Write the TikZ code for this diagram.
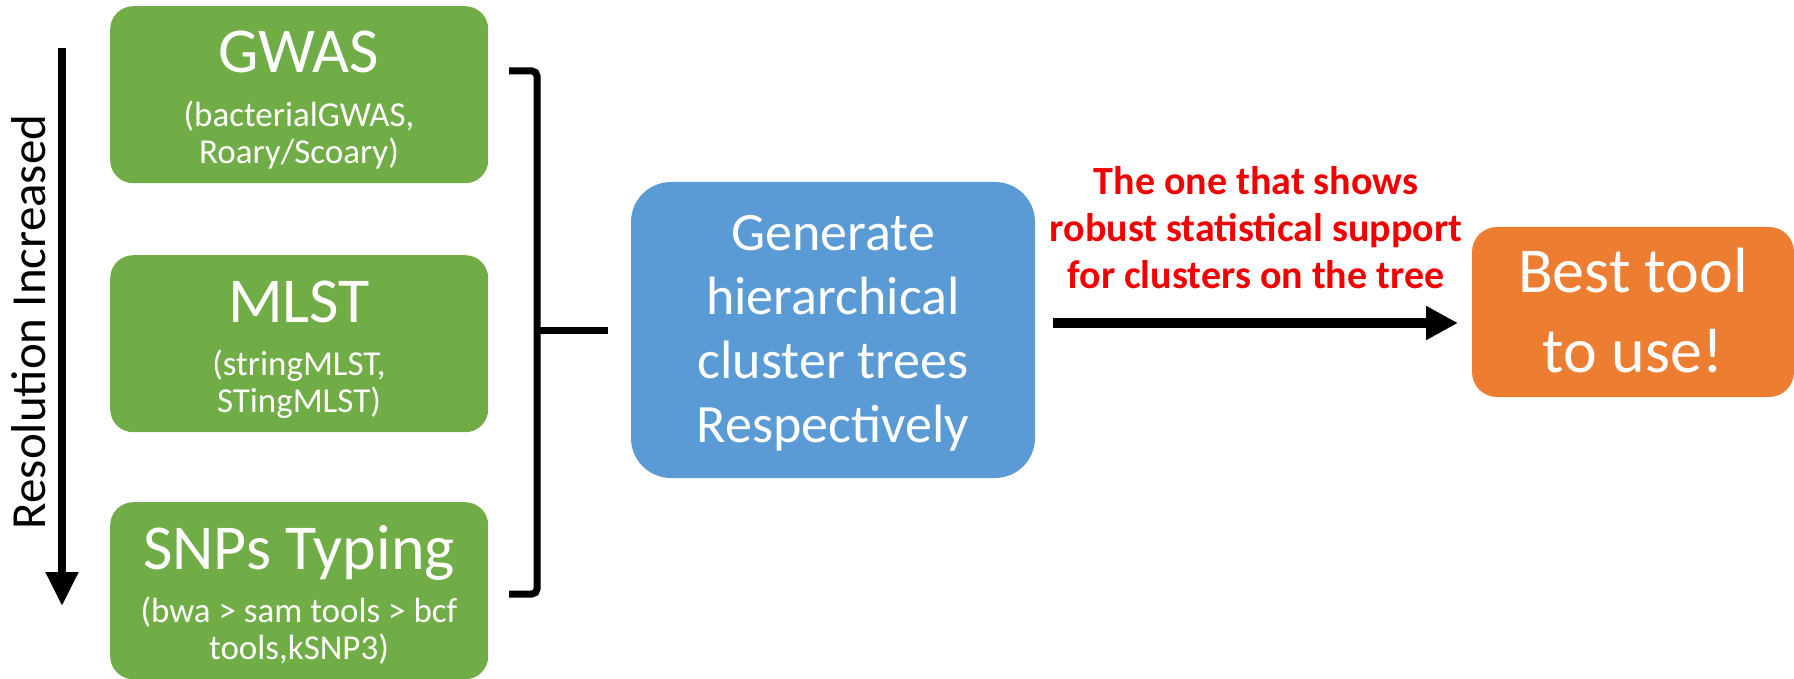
\documentclass[tikz,border=0pt]{standalone}
\usepackage{fontspec}
\setmainfont{Carlito}
\usetikzlibrary{arrows.meta}
\definecolor{boxgreen}{HTML}{70AD47}
\definecolor{boxblue}{HTML}{5B9BD5}
\definecolor{boxorange}{HTML}{ED7D31}
\definecolor{notered}{HTML}{F20000}
\newcommand\fsz[2]{\fontsize{#1}{#2}\selectfont}

\begin{document}
\begin{tikzpicture}[x=1pt,y=-1pt,
  toolbox/.style={fill=boxgreen, rounded corners=23pt, minimum width=378pt,
    minimum height=177pt, inner sep=0pt, anchor=north west},
  tooltitle/.style={text=white, font=\fsz{64}{64}, anchor=base, inner sep=0pt},
  % anchor=base of a multi-line node sits on its last line
  toolsub/.style={text=white, font=\fsz{35}{37}, anchor=base, align=center, inner sep=0pt},
  treebox/.style={fill=boxblue, rounded corners=40pt, minimum width=404pt,
    minimum height=296pt, inner sep=0pt},
  treetext/.style={text=white, align=center, font=\fsz{54}{64}, inner sep=0pt},
  bestbox/.style={fill=boxorange, rounded corners=25pt, minimum width=322pt,
    minimum height=170pt, inner sep=0pt},
  besttext/.style={text=white, align=center, font=\fsz{64}{80}, inner sep=0pt},
  note/.style={text=notered, font=\bfseries\fsz{40}{47}, align=center,
    anchor=base, inner sep=0pt},
  bigarrow/.style={line width=10pt, -{Triangle[width=32pt,length=32pt]}},
  resarrow/.style={line width=8pt, -{Triangle[width=31pt,length=34pt]}},
  bracket/.style={line width=7pt, rounded corners=5pt}
]
\useasboundingbox (0,0) rectangle (1794,679);

% resolution axis
\node[rotate=90, anchor=base, font=\fsz{49}{49}, inner sep=0pt] (reslabel)
  at (45,322) {Resolution Increased};
\coordinate (restop) at (62,48);
\coordinate (resbot) at (62,606);
\draw[resarrow] (restop) -- (resbot);

% typing methods
\node[toolbox] (gwas) at (110,6) {};
\node[tooltitle] (gwast) at (299,73) {GWAS};
\node[toolsub] (gwass) at (299,164) {(bacterialGWAS,\\Roary/Scoary)};

\node[toolbox] (mlst) at (110,255) {};
\node[tooltitle] (mlstt) at (299,322) {MLST};
\node[toolsub] (mlsts) at (299,412) {(stringMLST,\\STingMLST)};

\node[toolbox] (snps) at (110,502) {};
\node[tooltitle] (snpst) at (299,569) {SNPs Typing};
\node[toolsub] (snpss) at (299,659) {(bwa {>} sam tools {>} bcf\\tools,kSNP3)};

% grouping bracket
\coordinate (brtop) at (509,71);
\coordinate (brbot) at (509,594);
\coordinate (brmid) at (537,330);
\coordinate (brtip) at (608,330);
\draw[bracket] (brtop) -- (537,71) -- (537,594) -- (brbot);
\draw[line width=7pt] (brmid) -- (brtip);

% tree generation
\node[treebox] (trees) at (833,330) {};
\node[treetext] (treestext) at (833,333)
  {Generate\\hierarchical\\cluster trees\\Respectively};

% result
\node[bestbox] (best) at (1633,312) {};
\node[besttext] (besttxt) at (1633,311) {Best tool\\to use!};

\node[note] (why) at (1256,288)
  {The one that shows\\robust statistical support\\for clusters on the tree};

\coordinate (arrstart) at (1053,323);
\coordinate (arrend) at (1458,323);
\draw[bigarrow] (arrstart) -- (arrend);
\end{tikzpicture}
\end{document}
